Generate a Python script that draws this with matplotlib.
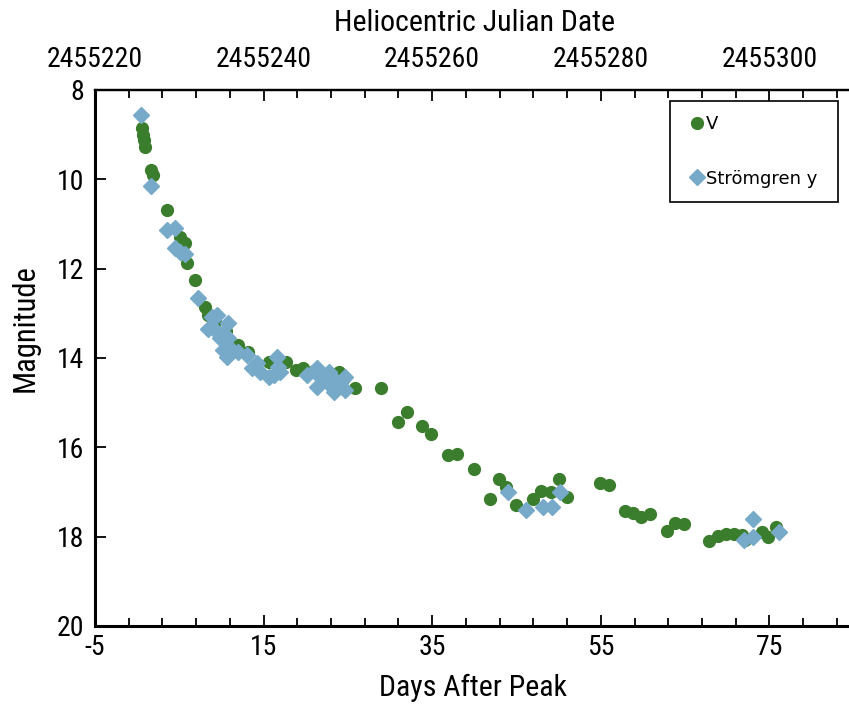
import os
import matplotlib
matplotlib.use('Agg')
import matplotlib.pyplot as plt
from matplotlib import font_manager as fm
from matplotlib.ticker import FixedLocator, MultipleLocator

# ---------------- data ----------------
v_days = [0.6, 0.7, 0.8, 0.9, 1.6, 1.9, 3.6, 5.1, 5.7, 5.9, 6.9, 8.05, 8.45, 9.2, 10.5,
          12.0, 13.2, 15.6, 17.7, 18.9, 19.7, 21.0, 23.9, 24.5, 25.8, 28.9, 30.9, 32.0,
          33.8, 34.9, 36.9, 37.9, 40.0, 41.9, 42.9, 43.7, 44.9, 46.9, 47.9, 49.1, 50.0,
          51.0, 54.9, 56.0, 57.9, 58.8, 59.8, 60.8, 62.8, 63.8, 64.9, 67.8, 68.9, 69.9,
          70.8, 71.8, 72.1, 74.1, 74.8, 75.8]
v_mags = [8.85, 9.0, 9.12, 9.27, 9.8, 9.9, 10.69, 11.3, 11.42, 11.88, 12.25, 12.85, 13.04,
          13.2, 13.4, 13.7, 13.86, 14.08, 14.08, 14.27, 14.23, 14.3, 14.31, 14.45, 14.68,
          14.68, 15.43, 15.2, 15.53, 15.71, 16.17, 16.14, 16.49, 17.16, 16.7, 16.88, 17.3,
          17.15, 16.98, 17.0, 16.7, 17.12, 16.79, 16.85, 17.42, 17.47, 17.56, 17.5, 17.87,
          17.7, 17.72, 18.1, 17.98, 17.94, 17.94, 17.97, 18.08, 17.89, 18.0, 17.78]

y_days = [0.42, 1.6, 3.5, 4.5, 4.5, 5.1, 5.7, 7.25, 8.84, 9.43, 10.8, 8.45, 9.2, 10.2, 9.83,
          10.8, 10.2, 11.0, 12.0, 10.6, 13.0, 14.2, 13.6, 14.6, 15.6, 16.55, 16.7, 16.2,
          17.0, 21.3, 20.1, 21.7, 22.7, 21.3, 22.5, 23.5, 24.1, 24.7, 23.3, 24.7, 44.0,
          46.1, 48.1, 49.2, 50.2, 72.0, 73.1, 73.1, 76.1]
y_mags = [8.56, 10.15, 11.13, 11.1, 11.54, 11.62, 11.67, 12.65, 13.08, 13.04, 13.22, 13.34,
          13.38, 13.45, 13.56, 13.56, 13.82, 13.78, 13.86, 13.97, 13.93, 14.12, 14.23, 14.31,
          14.42, 13.97, 14.2, 14.38, 14.31, 14.23, 14.38, 14.42, 14.31, 14.64, 14.53, 14.49,
          14.6, 14.42, 14.75, 14.72, 17.0, 17.41, 17.33, 17.33, 17.0, 18.08, 18.0, 17.61,
          17.89]

series_labels = ['V', 'Strömgren y']
bottom_ticks = [-5, 15, 35, 55, 75]
top_ticks = [2455220, 2455240, 2455260, 2455280, 2455300]
y_ticks = [8, 10, 12, 14, 16, 18, 20]
hjd_offset = 2455225

# ---------------- fonts ----------------
def pick_font():
    prefs = ['liberationsansnarrow-regular', 'robotocondensed-regular',
             'dejavusanscondensed.ttf', 'opensans_condensed-regular',
             'opensanscondensed-regular']
    files = [f.fname for f in fm.fontManager.ttflist]
    for p in prefs:
        for f in files:
            if p in os.path.basename(f).lower():
                return f
    return None

cond = pick_font()
plt.rcParams['axes.unicode_minus'] = False

def fp(size):
    if cond:
        return fm.FontProperties(fname=cond, size=size)
    return fm.FontProperties(family='cmss10', size=size)

green = '#3a7d2c'
blue = '#76aac8'

fig = plt.figure(figsize=(8.49, 7.04), dpi=100)
fig.patch.set_edgecolor('white')
fig.patch.set_linewidth(0)
ax_w = (849 - 95) / 849
ax = fig.add_axes([95 / 849, 78 / 704, ax_w, 536 / 704])

ax.plot(v_days, v_mags, 'o', color=green, ms=8.5, mec=green, label=series_labels[0], zorder=3)
ax.plot(y_days, y_mags, 'D', color=blue, ms=8.5, mec=blue, label=series_labels[1], zorder=4)

ax.set_xlim(-5, -5 + (849 - 95) / 8.43)
ax.set_ylim(20, 8)

ax.xaxis.set_major_locator(FixedLocator(bottom_ticks))
ax.xaxis.set_minor_locator(MultipleLocator(4, offset=-1))
ax.set_xticklabels([str(t) for t in bottom_ticks])
ax.yaxis.set_major_locator(FixedLocator(y_ticks))
ax.set_yticklabels([str(t) for t in y_ticks])

ax.tick_params(axis='x', which='both', direction='in', top=False, pad=6)
ax.tick_params(axis='x', which='major', length=8, width=1.3)
ax.tick_params(axis='x', which='minor', length=6, width=1.3)
ax.tick_params(axis='y', which='major', direction='in', length=8, width=1.3, pad=8, right=False)

for lbl in ax.get_xticklabels() + ax.get_yticklabels():
    lbl.set_fontproperties(fp(20))

for s in ['left', 'bottom']:
    ax.spines[s].set_linewidth(2.2)
ax.spines['top'].set_linewidth(1.6)
ax.spines['right'].set_visible(False)

ax.set_xlabel('Days After Peak', fontproperties=fp(21.5))
ax.xaxis.set_label_coords((473 - 95) / 754, -0.09)
ax.set_ylabel('Magnitude', fontproperties=fp(22))
ax.yaxis.set_label_coords((40 - 95) / 754, 0.556)

sec = ax.secondary_xaxis('top', functions=(lambda x: x + hjd_offset, lambda x: x - hjd_offset))
sec.xaxis.set_major_locator(FixedLocator(top_ticks))
sec.xaxis.set_minor_locator(MultipleLocator(4))
sec.set_xticklabels([str(t) for t in top_ticks])
sec.tick_params(axis='x', which='both', direction='in', pad=12)
sec.tick_params(axis='x', which='major', length=8, width=1.3)
sec.tick_params(axis='x', which='minor', length=6, width=1.3)
for lbl in sec.get_xticklabels():
    lbl.set_fontproperties(fp(20))
sec.set_xlabel('Heliocentric Julian Date', fontproperties=fp(21.5))
sec.xaxis.set_label_coords((474 - 95) / 754, 1.11, transform=ax.transAxes)
sec.spines['top'].set_linewidth(1.6)
for s in ['left', 'right', 'bottom']:
    sec.spines[s].set_visible(False)
sec.patch.set_visible(False)

leg_x0 = (670 - 95) / 754
leg_w = (838 - 670) / 754
leg_top = (626 - 101) / 536
leg = ax.legend(loc='upper left', bbox_to_anchor=(leg_x0, leg_top - 0.3, leg_w, 0.3),
                mode='expand', borderaxespad=0,
                frameon=True, fancybox=False, edgecolor='black', framealpha=1,
                handlelength=1.4, handletextpad=-0.2, borderpad=0.8, labelspacing=2.0,
                prop=fm.FontProperties(family='DejaVu Sans', size=13), numpoints=1)
leg.get_frame().set_linewidth(1.2)

fig.savefig('out.png', dpi=100, facecolor='white')
